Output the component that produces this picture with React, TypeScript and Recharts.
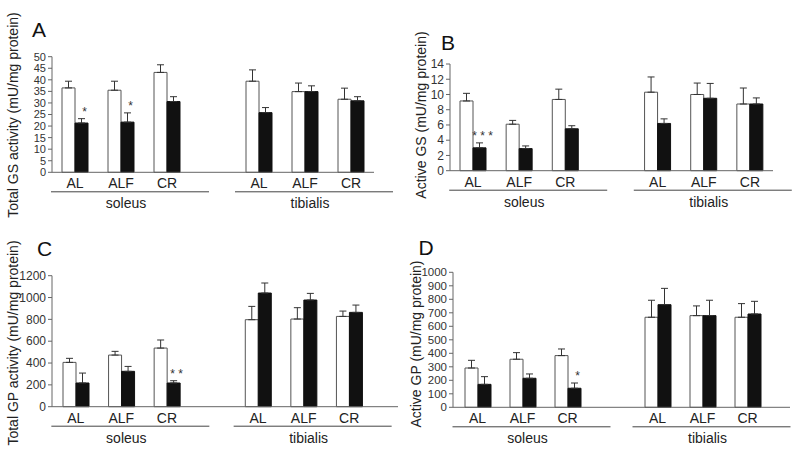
import React from 'react';
import { BarChart, Bar, XAxis, YAxis, ErrorBar, LabelList } from 'recharts';

const categories = ['AL', 'ALF', 'CR', '', 'AL', 'ALF', 'CR'];
const groups = ['soleus', 'tibialis'];

// A - total GS activity
const gsTotalWhite = [36.5, 35.5, 43.2, null, 39.4, 34.9, 31.6];
const gsTotalWhiteErr = [2.9, 3.9, 3.3, null, 4.9, 3.7, 4.8];
const gsTotalBlack = [21.3, 21.7, 30.6, null, 25.8, 34.9, 30.9];
const gsTotalBlackErr = [1.9, 4.0, 2.1, null, 2.2, 2.5, 1.8];
const gsTotalSig = ['*', '*', '', '', '', '', ''];

// B - active GS
const gsActiveWhite = [9.15, 6.1, 9.35, null, 10.3, 10.0, 8.75];
const gsActiveWhiteErr = [1.0, 0.5, 1.35, null, 2.0, 1.5, 2.1];
const gsActiveBlack = [3.0, 2.9, 5.5, null, 6.2, 9.5, 8.75];
const gsActiveBlackErr = [0.65, 0.35, 0.4, null, 0.6, 1.95, 0.8];
const gsActiveSig = ['* * *', '', '', '', '', '', ''];

// C - total GP activity
const gpTotalWhite = [406, 473, 537, null, 797, 803, 827];
const gpTotalWhiteErr = [37, 34, 74, null, 122, 104, 49];
const gpTotalBlack = [217, 324, 217, null, 1041, 977, 864];
const gpTotalBlackErr = [91, 45, 21, null, 92, 61, 67];
const gpTotalSig = ['', '', '* *', '', '', '', ''];

// D - active GP
const gpActiveWhite = [291, 356, 383, null, 667, 679, 667];
const gpActiveWhiteErr = [57, 49, 49, null, 126, 72, 101];
const gpActiveBlack = [170, 215, 141, null, 760, 679, 691];
const gpActiveBlackErr = [57, 32, 39, null, 121, 114, 94];
const gpActiveSig = ['', '', '*', '', '', '', ''];

const ticksA = [0, 5, 10, 15, 20, 25, 30, 35, 40, 45, 50];
const ticksB = [0, 2, 4, 6, 8, 10, 12, 14];
const ticksC = [0, 200, 400, 600, 800, 1000, 1200];
const ticksD = [0, 100, 200, 300, 400, 500, 600, 700, 800, 900, 1000];

const FONT = '"Liberation Sans", Arial, sans-serif';

const makeRows = (w, we, b, be, sig) =>
  categories.map((cat, i) => ({
    cat,
    white: w[i],
    whiteErr: we[i] == null ? null : [0, we[i]],
    black: b[i],
    blackErr: be[i] == null ? null : [0, be[i]],
    blackErrVal: be[i],
    sig: sig[i],
  }));

const CatTick = (props) => {
  const { x, y, payload, index } = props;
  const gi = index === 1 ? 0 : index === 5 ? 1 : -1;
  return (
    <g>
      <text x={x} y={y + 16} textAnchor="middle" fontSize={14} fill="#222" fontFamily={FONT}>
        {payload.value}
      </text>
      {gi >= 0 && (
        <g>
          <line x1={x - 70} x2={x + 88} y1={y + 19.5} y2={y + 19.5} stroke="#444" strokeWidth={1} />
          <text x={x + 5} y={y + 36} textAnchor="middle" fontSize={14} fill="#222" fontFamily={FONT}>
            {groups[gi]}
          </text>
        </g>
      )}
    </g>
  );
};

const sigLabel = (rows) => (props) => {
  const { x, y, width, height, index } = props;
  const row = rows[index];
  if (!row || !row.sig) return null;
  const px = height / row.black;
  const errTop = y - row.blackErrVal * px;
  return (
    <text x={x + width / 2 + 3} y={errTop - 3} textAnchor="middle" fontSize={12} fill="#333" fontFamily={FONT}>
      {row.sig}
    </text>
  );
};

const Panel = ({ letter, title, rows, ticks, lay }) => (
  <div style={{ position: 'absolute', left: lay.left, top: lay.top, width: 400, height: 229 }}>
    <BarChart
      width={400}
      height={229}
      data={rows}
      barGap={0}
      margin={{ top: lay.plotTop, right: 400 - lay.axisEnd, bottom: 0, left: 0 }}
    >
      <XAxis
        dataKey="cat"
        interval={0}
        height={229 - lay.zero}
        tickLine={false}
        tickSize={0}
        tickMargin={0}
        tick={<CatTick />}
        axisLine={{ stroke: '#666' }}
        padding={{ left: lay.padL, right: lay.padR }}
      />
      <YAxis
        width={lay.axisX}
        domain={[0, ticks[ticks.length - 1]]}
        ticks={ticks}
        interval={0}
        tickSize={4}
        tickMargin={2}
        axisLine={{ stroke: '#666' }}
        tickLine={{ stroke: '#666' }}
        tick={{ fontSize: lay.tickFont, fill: '#333', fontFamily: FONT }}
        label={{
          content: () => (
            <text
              x={lay.titleX}
              y={lay.titleY}
              transform={`rotate(-90 ${lay.titleX} ${lay.titleY})`}
              textAnchor="middle"
              fontSize={14}
              fill="#222"
              fontFamily={FONT}
            >
              {title}
            </text>
          ),
        }}
      />
      <Bar dataKey="white" barSize={13} fill="#fff" stroke="#555" strokeWidth={1} isAnimationActive={false}>
        <ErrorBar dataKey="whiteErr" width={3.5} stroke="#333" strokeWidth={1} direction="y" />
      </Bar>
      <Bar dataKey="black" barSize={13} fill="#111" stroke="#111" strokeWidth={1} isAnimationActive={false}>
        <ErrorBar dataKey="blackErr" width={3.5} stroke="#333" strokeWidth={1} direction="y" />
        <LabelList dataKey="sig" content={sigLabel(rows)} />
      </Bar>
    </BarChart>
    <div
      style={{
        position: 'absolute',
        left: lay.letterX,
        top: lay.letterY,
        fontFamily: FONT,
        fontSize: 21,
        lineHeight: 1,
        color: '#111',
      }}
    >
      {letter}
    </div>
  </div>
);

const layA = { left: 0, top: 0, plotTop: 56.7, zero: 172.3, axisX: 52, axisEnd: 374, padL: 0, padR: 0, tickFont: 11, titleX: 18, titleY: 115, letterX: 32, letterY: 19 };
const layB = { left: 400, top: 0, plotTop: 64, zero: 170.7, axisX: 50, axisEnd: 373, padL: 0, padR: 0, tickFont: 12, titleX: 26, titleY: 115, letterX: 41, letterY: 32 };
const layC = { left: 0, top: 229, plotTop: 46.7, zero: 177.7, axisX: 52, axisEnd: 398, padL: 1, padR: 26, tickFont: 12, titleX: 18, titleY: 114, letterX: 37, letterY: 9 };
const layD = { left: 400, top: 229, plotTop: 43.3, zero: 178.3, axisX: 53, axisEnd: 390, padL: 2, padR: 20, tickFont: 11.5, titleX: 21, titleY: 115, letterX: 18.5, letterY: 8 };

export default function App() {
  return (
    <div style={{ position: 'absolute', left: 0, top: 0, width: 800, height: 458, background: '#fff' }}>
      <Panel letter="A" title="Total GS activity (mU/mg protein)" ticks={ticksA} lay={layA}
        rows={makeRows(gsTotalWhite, gsTotalWhiteErr, gsTotalBlack, gsTotalBlackErr, gsTotalSig)} />
      <Panel letter="B" title="Active GS (mU/mg protein)" ticks={ticksB} lay={layB}
        rows={makeRows(gsActiveWhite, gsActiveWhiteErr, gsActiveBlack, gsActiveBlackErr, gsActiveSig)} />
      <Panel letter="C" title="Total GP activity (mU/mg protein)" ticks={ticksC} lay={layC}
        rows={makeRows(gpTotalWhite, gpTotalWhiteErr, gpTotalBlack, gpTotalBlackErr, gpTotalSig)} />
      <Panel letter="D" title="Active GP (mU/mg protein)" ticks={ticksD} lay={layD}
        rows={makeRows(gpActiveWhite, gpActiveWhiteErr, gpActiveBlack, gpActiveBlackErr, gpActiveSig)} />
    </div>
  );
}
